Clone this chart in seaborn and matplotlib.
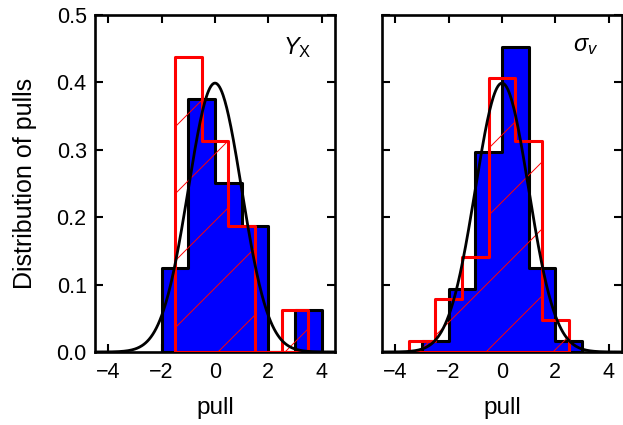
import numpy as np
import matplotlib
matplotlib.use("Agg")
import matplotlib.pyplot as plt
import seaborn as sns
from matplotlib.lines import Line2D
from matplotlib.transforms import IdentityTransform

# histogram data (counts per bin, bin width 1)
yx_blue_edges = [-2, -1, 0, 1, 2, 3, 4]
yx_blue_counts = [2, 6, 4, 3, 0, 1]
yx_red_edges = [-1.5, -0.5, 0.5, 1.5, 2.5, 3.5]
yx_red_counts = [7, 5, 3, 0, 1]

sv_blue_edges = [-3, -2, -1, 0, 1, 2, 3]
sv_blue_counts = [1, 6, 19, 29, 8, 1]
sv_red_edges = [-3.5, -2.5, -1.5, -0.5, 0.5, 1.5, 2.5]
sv_red_counts = [1, 5, 9, 26, 20, 3]

panel_labels = [r"$Y_{\rm X}$", r"$\sigma_v$"]

sns.set_style("ticks")
plt.rcParams["font.family"] = ["Liberation Sans", "DejaVu Sans"]
plt.rcParams["mathtext.fontset"] = "custom"
plt.rcParams["mathtext.rm"] = "Liberation Sans"
plt.rcParams["mathtext.it"] = "Liberation Sans:italic"
for key in ["text.color", "axes.labelcolor", "axes.edgecolor",
            "xtick.color", "ytick.color", "xtick.labelcolor", "ytick.labelcolor"]:
    plt.rcParams[key] = "black"
plt.rcParams["axes.linewidth"] = 1.9
plt.rcParams["xtick.direction"] = "in"
plt.rcParams["ytick.direction"] = "in"
plt.rcParams["xtick.top"] = True
plt.rcParams["ytick.right"] = True
plt.rcParams["xtick.major.size"] = 5.5
plt.rcParams["ytick.major.size"] = 5.5
plt.rcParams["xtick.major.width"] = 1.5
plt.rcParams["ytick.major.width"] = 1.5
plt.rcParams["xtick.major.pad"] = 7
plt.rcParams["ytick.major.pad"] = 6

fig = plt.figure(figsize=(6.23, 4.25), dpi=100)
ax1 = fig.add_axes([0.1525, 0.1718, 0.3852, 0.7929])
ax2 = fig.add_axes([0.6132, 0.1718, 0.3852, 0.7929])


def centers(edges):
    e = np.asarray(edges, dtype=float)
    return (e[:-1] + e[1:]) / 2


def draw_panel(ax, blue_edges, blue_counts, red_edges, red_counts, label):
    sns.histplot(x=centers(blue_edges), weights=blue_counts, bins=blue_edges,
                 stat="density", element="step", fill=True, color="#0000ff",
                 facecolor="#0000ff", edgecolor="black", linewidth=2.2,
                 alpha=1, ax=ax, zorder=2)
    sns.histplot(x=centers(red_edges), weights=red_counts, bins=red_edges,
                 stat="density", element="step", fill=True, color="red",
                 facecolor="none", edgecolor="red", linewidth=2.2,
                 ax=ax, zorder=4)
    red_poly = ax.collections[-1]

    xs = np.linspace(-4.5, 4.5, 400)
    sns.lineplot(x=xs, y=np.exp(-xs ** 2 / 2) / np.sqrt(2 * np.pi),
                 color="black", linewidth=2.0, ax=ax, zorder=5)

    ax.set_xlim(-4.5, 4.5)
    ax.set_ylim(0, 0.5)
    ax.set_xticks([-4, -2, 0, 2, 4])
    ax.set_yticks([0, 0.1, 0.2, 0.3, 0.4, 0.5])
    ax.tick_params(labelsize=15.5)
    ax.set_xlabel("pull", fontsize=17.5, labelpad=10)
    ax.text(0.9, 0.94, label, transform=ax.transAxes, ha="right", va="top",
            fontsize=17)

    # sparse diagonal hatch for the red histogram, in pixel space
    path = red_poly.get_paths()[0]
    for d in range(123 - 67 * 12, 500, 67):
        ln = Line2D([0, 700], [d, d + 700], transform=IdentityTransform(),
                    color="red", linewidth=0.7, zorder=4.5)
        ln.set_clip_path(path, red_poly.get_transform())
        ax.add_artist(ln)


draw_panel(ax1, yx_blue_edges, yx_blue_counts, yx_red_edges, yx_red_counts, panel_labels[0])
draw_panel(ax2, sv_blue_edges, sv_blue_counts, sv_red_edges, sv_red_counts, panel_labels[1])

ax1.set_ylabel("Distribution of pulls", fontsize=18, labelpad=14)
ax1.set_yticklabels(["0.0", "0.1", "0.2", "0.3", "0.4", "0.5"])
ax2.set_ylabel("")
ax2.set_yticklabels([])

fig.savefig("out.png", dpi=100)
